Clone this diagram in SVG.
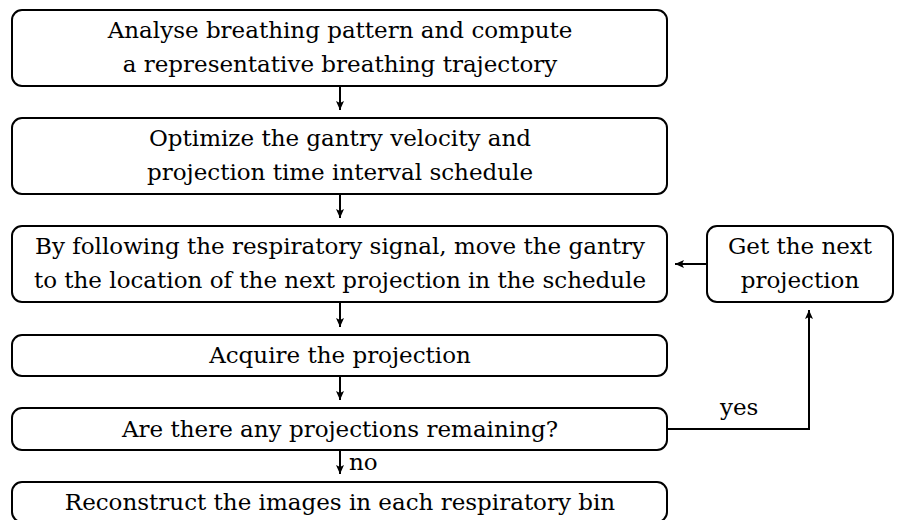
<svg xmlns="http://www.w3.org/2000/svg" width="900" height="520" viewBox="0 0 900 520">
<style>
.box{fill:#fff;stroke:#000;stroke-width:2}
.c{fill:none;stroke:#000;stroke-width:2}
</style>
<defs>
<marker id="ah" markerWidth="10" markerHeight="10" refX="9" refY="5" orient="auto" markerUnits="userSpaceOnUse">
<path d="M0,1 L9,5 L0,9 L2,5 Z" fill="#000"/>
</marker>
</defs>
<rect width="900" height="520" fill="#fff"/>
<g font-family="DejaVu Serif, serif" font-size="23" text-anchor="middle" fill="#000">
<g id="n1"><rect class="box" x="12" y="10" width="655" height="76" rx="10"/>
<text x="340" y="38">Analyse breathing pattern and compute</text>
<text x="340" y="72">a representative breathing trajectory</text></g>
<g id="n2"><rect class="box" x="12" y="118" width="655" height="76" rx="10"/>
<text x="340" y="146">Optimize the gantry velocity and</text>
<text x="340" y="180">projection time interval schedule</text></g>
<g id="n3"><rect class="box" x="12" y="226" width="655" height="76" rx="10"/>
<text x="340" y="254">By following the respiratory signal, move the gantry</text>
<text x="340" y="288">to the location of the next projection in the schedule</text></g>
<g id="n4"><rect class="box" x="707" y="226" width="186" height="76" rx="10"/>
<text x="800" y="254">Get the next</text>
<text x="800" y="288">projection</text></g>
<g id="n5"><rect class="box" x="12" y="335" width="655" height="41" rx="10"/>
<text x="340" y="363">Acquire the projection</text></g>
<g id="n6"><rect class="box" x="12" y="408" width="655" height="42" rx="10"/>
<text x="340" y="437">Are there any projections remaining?</text></g>
<g id="n7"><rect class="box" x="12" y="482" width="655" height="40" rx="10"/>
<text x="340" y="510">Reconstruct the images in each respiratory bin</text></g>
</g>
<g id="connectors">
<line class="c" x1="340" y1="86" x2="340" y2="110" marker-end="url(#ah)"/>
<line class="c" x1="340" y1="194" x2="340" y2="218" marker-end="url(#ah)"/>
<line class="c" x1="340" y1="302" x2="340" y2="327" marker-end="url(#ah)"/>
<line class="c" x1="340" y1="376" x2="340" y2="400" marker-end="url(#ah)"/>
<line class="c" x1="340" y1="450" x2="340" y2="474" marker-end="url(#ah)"/>
<line class="c" x1="707" y1="264" x2="675" y2="264" marker-end="url(#ah)"/>
<polyline class="c" points="667,429 809,429 809,310" marker-end="url(#ah)"/>
<text x="720" y="415" font-family="DejaVu Serif, serif" font-size="23">yes</text>
<text x="349" y="470" font-family="DejaVu Serif, serif" font-size="23">no</text>
</g>
</svg>
